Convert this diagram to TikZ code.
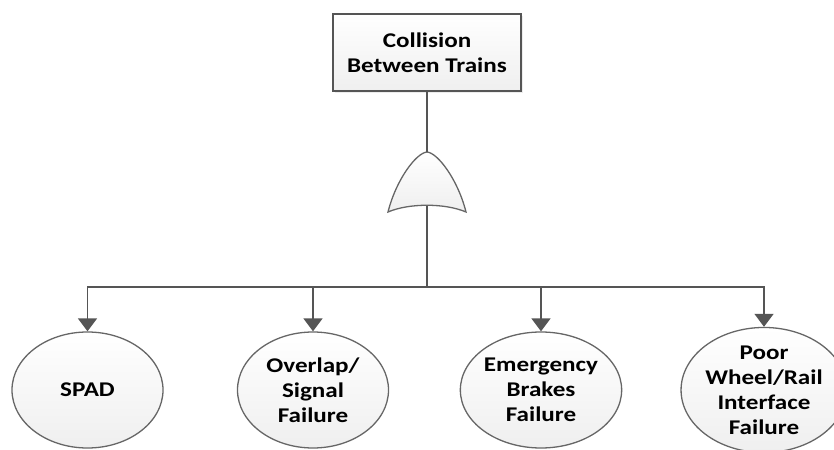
\documentclass[tikz,border=0pt]{standalone}
\usepackage{fontspec}
\setmainfont{Carlito}[FakeStretch=1.2]
\usetikzlibrary{arrows.meta,positioning,shapes.geometric,shadows}
\definecolor{ftline}{HTML}{555555}
\definecolor{ftedge}{HTML}{666666}
\definecolor{ftfill}{HTML}{EFEFEF}

\begin{document}
\begin{tikzpicture}[
 x=1bp,y=-1bp,
 ev/.style={draw=ftline,line width=1.6bp,top color=white,bottom color=ftfill,align=center,minimum width=188bp,minimum height=77bp,inner sep=0pt,font=\bfseries\fontsize{21}{25}\selectfont,drop shadow={opacity=0.15,shadow xshift=2bp,shadow yshift=-2bp}},
 be/.style={ellipse,draw=ftedge,line width=1.3bp,top color=white,bottom color=ftfill,inner sep=0pt,minimum width=151bp,minimum height=116bp,align=center,font=\bfseries\fontsize{21}{25}\selectfont},
 l/.style={ftline,line width=1.6bp},
 a/.style={l,-{Triangle[length=13bp,width=19bp]}}
]
\useasboundingbox (0,0) rectangle (834,450);
\node[ev] (top) at (427,52.5) {Collision\\Between Trains};
% OR gate
\draw[ftedge,line width=1.3bp,top color=white,bottom color=ftfill]
  (388,212) .. controls (396,180) and (416,153) .. (427,152)
  .. controls (438,153) and (458,180) .. (466,212)
  .. controls (445,203) and (409,203) .. (388,212) -- cycle;
\coordinate (gtop) at (427,152);
\coordinate (gbot) at (427,206);
\coordinate (bus) at (427,287);
% basic events
\node[be] (spad) at (87.5,390) {SPAD};
\node[be] (ovl) at (313,390) {Overlap/\\Signal\\Failure};
\node[be] (emb) at (541,390) {Emergency\\Brakes\\Failure};
\node[be,minimum width=140bp] (wrf) at (764,390) {Poor\\Wheel/Rail\\Interface\\Failure};
\draw[l] (top.south) -- (gtop);
\draw[l] (gbot) -- (bus);
\draw[a] (bus) -| (spad.north);
\draw[a] (bus) -| (ovl.north);
\draw[a] (bus) -| (emb.north);
\draw[a] (bus) -| (wrf.north);
\end{tikzpicture}
\end{document}
